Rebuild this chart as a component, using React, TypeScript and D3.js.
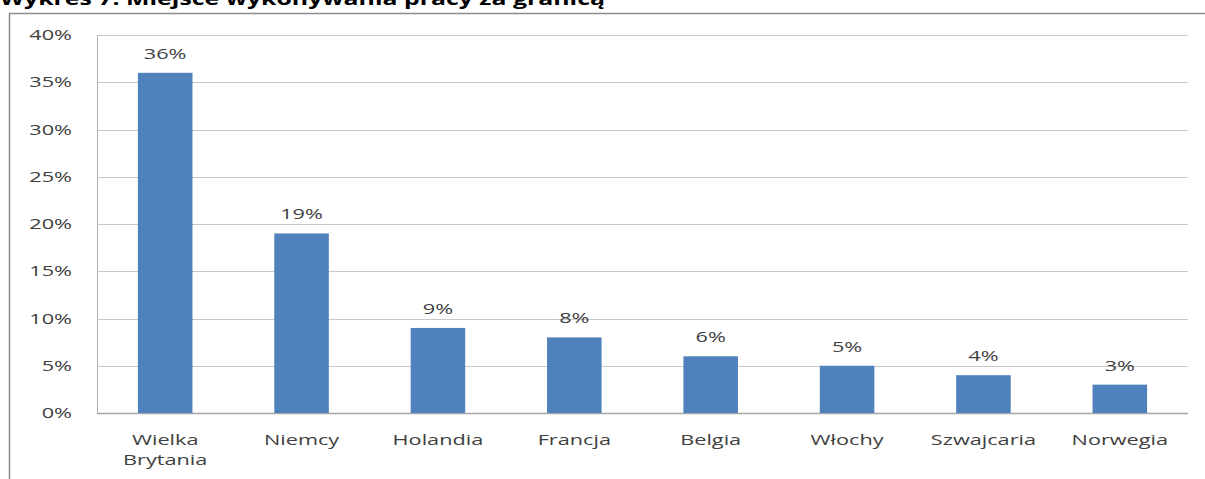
import React from "react";
import * as d3 from "d3";

const categories: string[][] = [
  ["Wielka", "Brytania"],
  ["Niemcy"],
  ["Holandia"],
  ["Francja"],
  ["Belgia"],
  ["Włochy"],
  ["Szwajcaria"],
  ["Norwegia"],
];
const values: number[] = [36, 19, 9, 8, 6, 5, 4, 3];
const yTicks: number[] = [0, 5, 10, 15, 20, 25, 30, 35, 40];
const title = "Wykres 7. Miejsce wykonywania pracy za granicą";

const W = 1205;
const H = 479;
const SX = 1.55;
const FONT = "'Open Sans', 'Liberation Sans', sans-serif";

export default function App() {
  const left = 97;
  const right = 1188;
  const top = 35;
  const bottom = 413;
  const x = d3
    .scaleBand<number>()
    .domain(values.map((_, i) => i))
    .range([left, right])
    .paddingInner(0.6)
    .paddingOuter(0.3);
  const y = d3.scaleLinear().domain([0, 40]).range([bottom, top]);

  const stretched = (
    key: string,
    tx: number,
    ty: number,
    text: string,
    anchor: "start" | "middle" | "end",
    size: number,
    fill: string,
    weight = "normal"
  ) => (
    <g key={key} transform={`translate(${tx},${ty}) scale(${SX},1)`}>
      <text
        textAnchor={anchor}
        fontSize={size}
        fontFamily={FONT}
        fill={fill}
        fontWeight={weight}
      >
        {text}
      </text>
    </g>
  );

  return (
    <svg
      width={W}
      height={H}
      style={{ position: "absolute", left: 0, top: 0, background: "#fff" }}
    >
      <rect x={0} y={0} width={W} height={H} fill="#fff" />
      <text
        x={0}
        y={5}
        fontSize={17}
        fontWeight="bold"
        fontFamily={FONT}
        fill="#000"
        textLength={605}
        lengthAdjust="spacingAndGlyphs"
      >
        {title}
      </text>
      <rect
        x={9.5}
        y={13.5}
        width={W + 10}
        height={H + 10}
        fill="none"
        stroke="#8c8c8c"
        strokeWidth={1.5}
      />
      {yTicks.map((t) => (
        <line
          key={"g" + t}
          x1={left}
          x2={right}
          y1={Math.round(y(t)) + 0.5}
          y2={Math.round(y(t)) + 0.5}
          stroke={t === 0 ? "#a6a6a6" : "#c8c8c8"}
          strokeWidth={t === 0 ? 1.5 : 1}
        />
      ))}
      <line
        x1={left + 0.5}
        x2={left + 0.5}
        y1={top}
        y2={bottom}
        stroke="#b0b0b0"
        strokeWidth={1}
      />
      {yTicks.map((t) =>
        stretched("yt" + t, 72, y(t) + 5, `${t}%`, "end", 14, "#404040")
      )}
      {values.map((v, i) => (
        <rect
          key={"b" + i}
          x={x(i)!}
          y={y(v)}
          width={x.bandwidth()}
          height={bottom - y(v)}
          fill="#4f81bd"
        />
      ))}
      {values.map((v, i) =>
        stretched(
          "v" + i,
          x(i)! + x.bandwidth() / 2,
          y(v) - 14,
          `${v}%`,
          "middle",
          14,
          "#404040"
        )
      )}
      {categories.map((lines, i) =>
        lines.map((ln, j) =>
          stretched(
            "c" + i + "_" + j,
            x(i)! + x.bandwidth() / 2,
            445 + j * 20,
            ln,
            "middle",
            14,
            "#404040"
          )
        )
      )}
    </svg>
  );
}
